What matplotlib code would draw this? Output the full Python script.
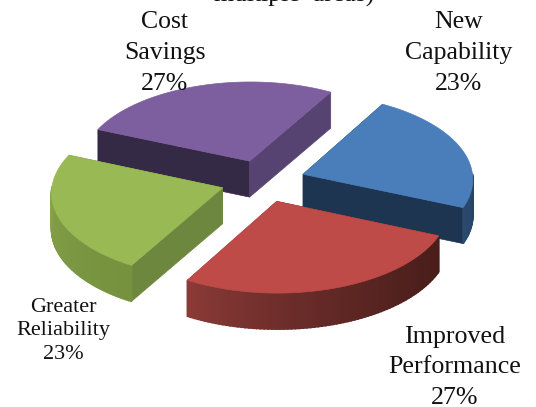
import numpy as np
import matplotlib
matplotlib.use("Agg")
import matplotlib.pyplot as plt

labels = ["New\nCapability", "Improved\nPerformance", "Greater\nReliability", "Cost\nSavings"]
values = [23, 27, 23, 27]

top_colors = ["#4a7ebb", "#be4b48", "#98b954", "#7d5fa0"]
# wall colours: cut wall at the start angle, cut wall at the end angle, arc from start to end
start_wall = ["#1d3550", "#4f1f1c", "#6e873e", "#352a45"]
end_wall = ["#1d3550", "#8a3a37", "#6e873e", "#574371"]
arc_from = ["#1d3550", "#4a1e1b", "#76923f", "#352a45"]
arc_to = ["#2a4a6e", "#8a3a37", "#8dab50", "#352a45"]

label_x = [459, 455, 63, 165]
label_y = [53, 367, 331, 53]
label_size = [18.5, 18.7, 16, 18.5]
label_spacing = [1.5, 1.5, 1.3, 1.5]

start_angle = 60
explode = 0.25
cx, cy = 263, 181
rx, ry = 170, 85
persp = 0.05
depth = 36


def project(X, Y):
  s = 1 / (1 + persp * Y)
  return cx + rx * X * s, cy - ry * Y * s


def to_rgb(c):
  return np.array(matplotlib.colors.to_rgb(c))


plt.rcParams["font.family"] = ["Liberation Serif", "DejaVu Serif"]
fig = plt.figure(figsize=(5.36, 4.07), dpi=100)
ax = fig.add_axes([0, 0, 1, 1])
ax.set_xlim(0, 536)
ax.set_ylim(407, 0)
ax.axis("off")

sweeps = np.array(values) / sum(values) * 360
ends = start_angle - np.cumsum(sweeps)
starts = ends + sweeps
mids = (starts + ends) / 2

# back slice first, front slice last
order = np.argsort(-np.sin(np.radians(mids)))

for layer, i in enumerate(order):
  z = 2 + 3 * layer
  mid = np.radians(mids[i])
  ox, oy = explode * np.cos(mid), explode * np.sin(mid)
  t = np.radians(np.linspace(starts[i], ends[i], 80))
  px, py = project(ox + np.cos(t), oy + np.sin(t))
  ax0, ay0 = project(ox, oy)

  # cut walls
  ax.fill([ax0, px[0], px[0], ax0], [ay0, py[0], py[0] + depth, ay0 + depth],
          color=start_wall[i], lw=0.5, zorder=z)
  ax.fill([ax0, px[-1], px[-1], ax0], [ay0, py[-1], py[-1] + depth, ay0 + depth],
          color=end_wall[i], lw=0.5, zorder=z)

  # outer wall, shaded along the arc, only the part that faces the viewer
  c0, c1 = to_rgb(arc_from[i]), to_rgb(arc_to[i])
  for k in range(len(t) - 1):
    if np.sin(t[k]) > 0 and np.sin(t[k + 1]) > 0:
      continue
    f = (k / (len(t) - 2)) ** 1.5
    ax.fill([px[k], px[k + 1], px[k + 1], px[k]],
            [py[k], py[k + 1], py[k + 1] + depth, py[k] + depth],
            color=c0 + (c1 - c0) * f, lw=1.2, zorder=z + 1)

  # top face
  ax.fill(np.r_[ax0, px], np.r_[ay0, py], color=top_colors[i], lw=0.5, zorder=z + 2)

for i in range(len(values)):
  ax.text(label_x[i], label_y[i], "%s\n%d%%" % (labels[i], values[i]), ha="center", va="center",
          fontsize=label_size[i], linespacing=label_spacing[i], color="#111111", zorder=30)

ax.text(294, 2, "multiple  areas)", ha="center", va="baseline", fontsize=18.5, color="#111111", zorder=30)

fig.savefig("out.png", dpi=100)
